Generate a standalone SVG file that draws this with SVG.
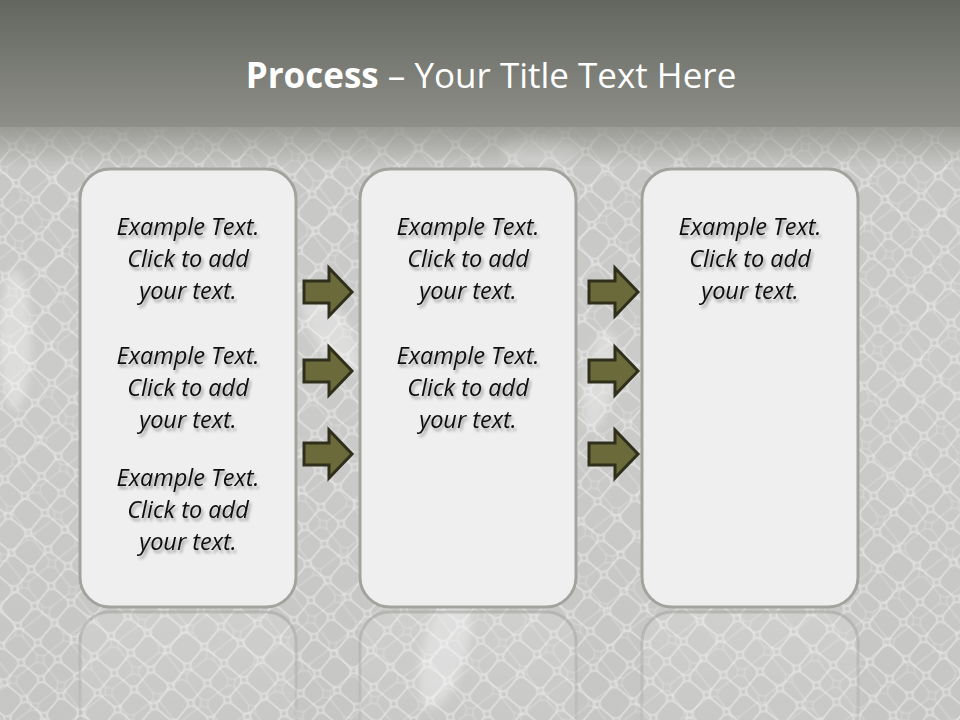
<svg xmlns="http://www.w3.org/2000/svg" width="960" height="720" viewBox="0 0 960 720">
<defs>
  <linearGradient id="bg" x1="0" y1="0" x2="0" y2="1">
    <stop offset="0" stop-color="#c4c5c2"/>
    <stop offset="0.5" stop-color="#cbcbca"/>
    <stop offset="1" stop-color="#c6c6c5"/>
  </linearGradient>
  <linearGradient id="band" x1="0" y1="0" x2="0" y2="1">
    <stop offset="0" stop-color="#63665f"/>
    <stop offset="1" stop-color="#8e8f89"/>
  </linearGradient>
  <linearGradient id="bandFade" x1="0" y1="0" x2="0" y2="1">
    <stop offset="0" stop-color="#8e8f89" stop-opacity="0.8"/>
    <stop offset="1" stop-color="#8e8f89" stop-opacity="0"/>
  </linearGradient>
  <pattern id="scales" width="26" height="26" patternUnits="userSpaceOnUse" patternTransform="rotate(40)">
    <rect width="26" height="26" fill="none" stroke="#ffffff" stroke-width="2" stroke-opacity="0.35" rx="7"/>
  </pattern>
  <pattern id="scales2" width="34" height="34" patternUnits="userSpaceOnUse" patternTransform="rotate(-38)">
    <rect width="34" height="34" fill="none" stroke="#ffffff" stroke-width="1.5" stroke-opacity="0.2" rx="8"/>
  </pattern>
  <linearGradient id="reflFade" x1="0" y1="0" x2="0" y2="1">
    <stop offset="0" stop-color="#fff" stop-opacity="1"/>
    <stop offset="1" stop-color="#fff" stop-opacity="0.35"/>
  </linearGradient>
  <mask id="reflMask" maskUnits="userSpaceOnUse" x="0" y="600" width="960" height="120">
    <rect x="0" y="600" width="960" height="120" fill="url(#reflFade)"/>
  </mask>
  <filter id="tshadow" x="-10%" y="-20%" width="130%" height="150%">
    <feDropShadow dx="2" dy="3" stdDeviation="1.6" flood-color="#000" flood-opacity="0.35"/>
  </filter>
  <filter id="blur" x="-20%" y="-20%" width="140%" height="140%">
    <feGaussianBlur stdDeviation="4"/>
  </filter>
  <style>
    .box { fill: #efefef; stroke: #a3a39e; stroke-width: 3; }
    .refl { fill: #ffffff; fill-opacity: 0.15; stroke: #a3a39e; stroke-width: 3; stroke-opacity: 0.6; }
    .txt { font-family: "Open Sans", "Liberation Sans", sans-serif; font-style: italic; font-size: 23.5px; fill: #111; text-anchor: middle; }
    .arrow { fill: #6b6a3a; stroke: #2f2f1c; stroke-width: 3; stroke-linejoin: miter; }
    .title { font-family: "Open Sans", "Liberation Sans", sans-serif; font-size: 35px; fill: #ffffff; }
  </style>
</defs>

<!-- background -->
<rect x="0" y="0" width="960" height="720" fill="url(#bg)"/>
<rect x="0" y="120" width="960" height="600" fill="url(#scales)"/>
<rect x="0" y="120" width="960" height="600" fill="url(#scales2)"/>
<g fill="#ffffff" fill-opacity="0.35" filter="url(#blur)">
  <ellipse cx="15" cy="340" rx="16" ry="70"/>
  <ellipse cx="445" cy="650" rx="22" ry="60" transform="rotate(15 445 650)"/>
  <ellipse cx="330" cy="330" rx="18" ry="50" transform="rotate(-30 330 330)"/>
  <ellipse cx="600" cy="380" rx="14" ry="50" transform="rotate(10 600 380)"/>
  <ellipse cx="540" cy="150" rx="40" ry="14"/>
</g>
<rect x="0" y="0" width="960" height="127" fill="url(#band)"/>
<rect x="0" y="127" width="960" height="40" fill="url(#bandFade)"/>

<!-- title -->
<text class="title" x="491" y="88" text-anchor="middle"><tspan font-weight="bold">Process</tspan><tspan>  – Your Title Text Here</tspan></text>

<!-- reflections -->
<g mask="url(#reflMask)">
  <rect class="refl" x="80" y="612" width="216" height="440" rx="30"/>
  <rect class="refl" x="360" y="612" width="216" height="440" rx="30"/>
  <rect class="refl" x="642" y="612" width="216" height="440" rx="30"/>
</g>

<!-- nodes -->
<g id="box1">
  <rect class="box" x="80" y="169" width="216" height="438" rx="30"/>
  <g filter="url(#tshadow)">
    <text class="txt" x="188" y="235">Example Text.</text>
    <text class="txt" x="188" y="267">Click  to add</text>
    <text class="txt" x="188" y="299">your text.</text>
    <text class="txt" x="188" y="364">Example Text.</text>
    <text class="txt" x="188" y="396">Click  to add</text>
    <text class="txt" x="188" y="428">your text.</text>
    <text class="txt" x="188" y="486">Example Text.</text>
    <text class="txt" x="188" y="518">Click  to add</text>
    <text class="txt" x="188" y="550">your text.</text>
  </g>
</g>
<g id="box2">
  <rect class="box" x="360" y="169" width="216" height="438" rx="30"/>
  <g filter="url(#tshadow)">
    <text class="txt" x="468" y="235">Example Text.</text>
    <text class="txt" x="468" y="267">Click  to add</text>
    <text class="txt" x="468" y="299">your text.</text>
    <text class="txt" x="468" y="364">Example Text.</text>
    <text class="txt" x="468" y="396">Click  to add</text>
    <text class="txt" x="468" y="428">your text.</text>
  </g>
</g>
<g id="box3">
  <rect class="box" x="642" y="169" width="216" height="438" rx="30"/>
  <g filter="url(#tshadow)">
    <text class="txt" x="750" y="235">Example Text.</text>
    <text class="txt" x="750" y="267">Click  to add</text>
    <text class="txt" x="750" y="299">your text.</text>
  </g>
</g>

<!-- connectors -->
<g id="connectors">
  <path class="arrow" d="M304,281 H329 V268 L352,292 L329,316 V303 H304 Z"/>
  <path class="arrow" d="M304,360 H329 V347 L352,371 L329,395 V382 H304 Z"/>
  <path class="arrow" d="M304,443 H329 V430 L352,454 L329,478 V465 H304 Z"/>
  <path class="arrow" d="M589,281 H615 V268 L638,292 L615,316 V303 H589 Z"/>
  <path class="arrow" d="M589,360 H615 V347 L638,371 L615,395 V382 H589 Z"/>
  <path class="arrow" d="M589,443 H615 V430 L638,454 L615,478 V465 H589 Z"/>
</g>
</svg>
